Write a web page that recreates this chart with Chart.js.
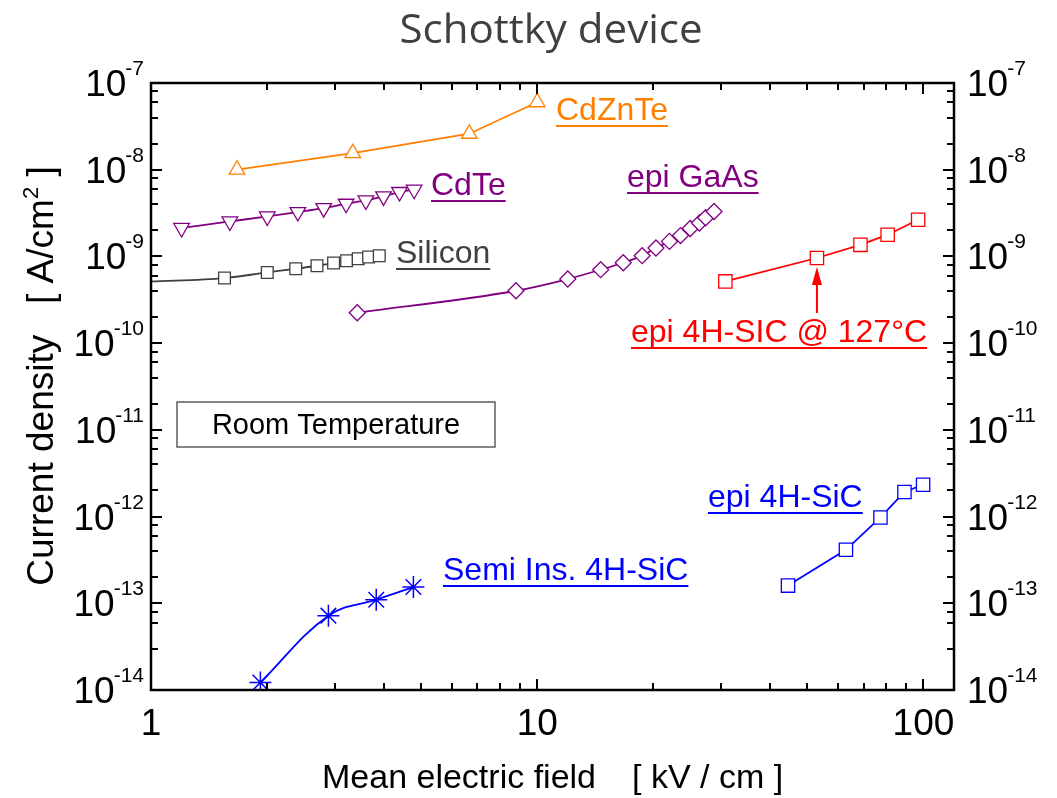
<!DOCTYPE html>
<html>
<head>
<meta charset="utf-8">
<title>Schottky device</title>
<script src="https://cdn.jsdelivr.net/npm/chart.js@4.4.0/dist/chart.umd.min.js"></script>
<style>
  body { margin: 0; background: #fff; }
  #wrap { position: relative; width: 1057px; height: 798px; }
</style>
</head>
<body>
<div id="wrap"><canvas id="chart"></canvas></div>
<script>
// Mean electric field [kV/cm] vs current density [A/cm^2], one pair per device
const cdznteField = [1.67, 3.33, 6.67, 10.0];
const cdznteCurrent = [1.0e-8, 1.55e-8, 2.6e-8, 6.0e-8];

const cdteField = [1.2, 1.6, 2.0, 2.4, 2.8, 3.2, 3.6, 4.0, 4.4, 4.8];
const cdteCurrent = [2.13e-9, 2.53e-9, 2.89e-9, 3.25e-9, 3.61e-9, 4.05e-9, 4.42e-9, 4.92e-9, 5.53e-9, 5.88e-9];

const siliconField = [1.0, 1.55, 2.0, 2.37, 2.69, 2.97, 3.21, 3.44, 3.66, 3.90];
const siliconCurrent = [5.15e-10, 5.63e-10, 6.54e-10, 7.21e-10, 7.81e-10, 8.39e-10, 8.92e-10, 9.40e-10, 9.84e-10, 1.02e-9];

const gaasField = [3.42, 8.81, 12.0, 14.6, 16.7, 18.7, 20.3, 22.0, 23.5, 24.9, 26.3, 27.3, 28.7];
const gaasCurrent = [2.24e-10, 4.02e-10, 5.49e-10, 7.03e-10, 8.45e-10, 1.02e-9, 1.25e-9, 1.49e-9, 1.74e-9, 2.10e-9, 2.43e-9, 2.79e-9, 3.30e-9];

const sicHotField = [30.7, 53.0, 68.7, 80.8, 96.9];
const sicHotCurrent = [5.15e-10, 9.59e-10, 1.36e-9, 1.78e-9, 2.65e-9];

const sicEpiField = [44.6, 63.0, 77.4, 89.3, 99.8];
const sicEpiCurrent = [1.60e-13, 4.14e-13, 9.77e-13, 1.92e-12, 2.33e-12];

const sicSemiField = [1.92, 2.88, 3.83, 4.78];
const sicSemiCurrent = [1.22e-14, 7.2e-14, 1.10e-13, 1.54e-13];

// axis labels
const xTickValues = [1, 10, 100];
const yTickExponents = [-7, -8, -9, -10, -11, -12, -13, -14];

const FONT = '"Liberation Sans", Arial, sans-serif';

function series(label, xs, ys, color, style, extra) {
  return Object.assign({
    label,
    data: xs.map((x, i) => ({ x, y: ys[i] })),
    borderColor: color,
    borderWidth: 1.8,
    pointStyle: style,
    pointRadius: 8.5,
    pointBorderColor: color,
    pointBackgroundColor: '#fff',
    pointBorderWidth: 1.3,
    tension: 0,
  }, extra || {});
}

const smooth = { cubicInterpolationMode: 'monotone' };

// text notes next to the curves (pixel positions of the text baseline)
const notes = [
  { text: 'CdZnTe', x: 556, y: 120, color: '#ff8000', size: 32 },
  { text: 'CdTe', x: 431, y: 195, color: '#800080', size: 32 },
  { text: 'Silicon', x: 396, y: 263, color: '#404040', size: 32 },
  { text: 'epi GaAs', x: 627, y: 187, color: '#800080', size: 32 },
  { text: 'epi 4H-SIC @ 127°C', x: 631, y: 342, color: '#ff0000', size: 32 },
  { text: 'epi 4H-SiC', x: 708, y: 507, color: '#0000ff', size: 32 },
  { text: 'Semi Ins. 4H-SiC', x: 443, y: 580, color: '#0000ff', size: 32 },
];

function isDecadeMultiple(v) {
  const m = v / Math.pow(10, Math.floor(Math.log10(v) + 1e-9));
  return Math.abs(m - Math.round(m)) < 1e-6 ? Math.round(m) : 0;
}

function drawPower(ctx, exp, x, y, align) {
  const big = '37px ' + FONT;
  const small = '21px ' + FONT;
  ctx.font = big;
  const wb = ctx.measureText('10').width;
  ctx.font = small;
  const ws = ctx.measureText(String(exp)).width;
  const left = align === 'right' ? x - wb - ws + 1 : x;
  ctx.textAlign = 'left';
  ctx.textBaseline = 'alphabetic';
  ctx.font = big;
  ctx.fillText('10', left, y + 13);
  ctx.font = small;
  ctx.fillText(String(exp), left + wb - 1, y - 8);
}

const decorations = {
  id: 'decorations',
  afterDraw(chart) {
    const ctx = chart.ctx;
    const xs = chart.scales.x;
    const ys = chart.scales.y;
    const a = chart.chartArea;
    ctx.save();

    // ticks, pointing inward on all four sides
    ctx.strokeStyle = '#000';
    ctx.lineWidth = 2;
    ctx.beginPath();
    xs.ticks.forEach((t) => {
      const m = isDecadeMultiple(t.value);
      if (!m) return;
      const px = Math.round(xs.getPixelForValue(t.value));
      if (px <= a.left + 1 || px >= a.right - 1) return;
      const len = m === 1 ? 11 : 7;
      ctx.moveTo(px, a.bottom); ctx.lineTo(px, a.bottom - len);
      ctx.moveTo(px, a.top); ctx.lineTo(px, a.top + len);
    });
    ys.ticks.forEach((t) => {
      const m = isDecadeMultiple(t.value);
      if (!m) return;
      const py = Math.round(ys.getPixelForValue(t.value));
      if (py <= a.top + 1 || py >= a.bottom - 1) return;
      const len = m === 1 ? 11 : 7;
      ctx.moveTo(a.left, py); ctx.lineTo(a.left + len, py);
      ctx.moveTo(a.right, py); ctx.lineTo(a.right - len, py);
    });
    ctx.stroke();

    // frame
    ctx.lineWidth = 2.5;
    ctx.strokeRect(a.left, a.top, a.right - a.left, a.bottom - a.top);

    // tick labels
    ctx.fillStyle = '#000';
    ctx.font = '37px ' + FONT;
    ctx.textAlign = 'center';
    ctx.textBaseline = 'alphabetic';
    xTickValues.forEach((v) => {
      ctx.fillText(String(v), xs.getPixelForValue(v), a.bottom + 45);
    });
    yTickExponents.forEach((e) => {
      const py = ys.getPixelForValue(Math.pow(10, e));
      drawPower(ctx, e, a.left - 7, py, 'right');
      drawPower(ctx, e, a.right + 13, py, 'left');
    });

    // axis titles
    ctx.font = '34px ' + FONT;
    ctx.textAlign = 'left';
    ctx.fillText('Mean electric field', 322, 788);
    ctx.fillText('[ kV / cm ]', 632, 788);

    ctx.save();
    ctx.translate(53, 376);
    ctx.rotate(-Math.PI / 2);
    const partA = 'Current density   [ A/cm';
    const partB = '2';
    const partC = ' ]';
    ctx.font = '37px ' + FONT;
    const wA = ctx.measureText(partA).width;
    const wC = ctx.measureText(partC).width;
    ctx.font = '22px ' + FONT;
    const wB = ctx.measureText(partB).width;
    let cx = -(wA + wB + wC) / 2;
    ctx.font = '37px ' + FONT;
    ctx.fillText(partA, cx, 0);
    cx += wA;
    ctx.font = '22px ' + FONT;
    ctx.fillText(partB, cx, -15);
    cx += wB;
    ctx.font = '37px ' + FONT;
    ctx.fillText(partC, cx, 0);
    ctx.restore();

    // main title, narrowed to match the original Calibri look
    ctx.save();
    ctx.fillStyle = '#404040';
    ctx.font = '40px "Open Sans", sans-serif';
    const tw = ctx.measureText('Schottky device').width;
    ctx.translate(551, 43);
    ctx.scale(303 / tw, 1);
    ctx.textAlign = 'center';
    ctx.fillText('Schottky device', 0, 0);
    ctx.restore();

    // curve notes, underlined
    notes.forEach((n) => {
      ctx.font = n.size + 'px ' + FONT;
      ctx.fillStyle = n.color;
      ctx.textAlign = 'left';
      ctx.fillText(n.text, n.x, n.y);
      const w = ctx.measureText(n.text).width;
      ctx.fillRect(n.x, n.y + 5, w, 2);
    });

    // arrow pointing to the 53 kV/cm point at 127 C
    const ax = xs.getPixelForValue(sicHotField[1]);
    const tipY = ys.getPixelForValue(sicHotCurrent[1]) + 9;
    ctx.strokeStyle = '#ff0000';
    ctx.fillStyle = '#ff0000';
    ctx.lineWidth = 2;
    ctx.beginPath();
    ctx.moveTo(ax, 313);
    ctx.lineTo(ax, tipY + 14);
    ctx.stroke();
    ctx.beginPath();
    ctx.moveTo(ax, tipY);
    ctx.lineTo(ax - 5, tipY + 18);
    ctx.lineTo(ax + 5, tipY + 18);
    ctx.closePath();
    ctx.fill();

    // room temperature box
    ctx.strokeStyle = '#444';
    ctx.lineWidth = 1.3;
    ctx.strokeRect(177, 402, 318, 45);
    ctx.fillStyle = '#000';
    ctx.font = '29px ' + FONT;
    ctx.textAlign = 'center';
    ctx.fillText('Room Temperature', 336, 434);

    ctx.restore();
  },
};

new Chart(document.getElementById('chart'), {
  type: 'line',
  data: {
    datasets: [
      series('CdZnTe', cdznteField, cdznteCurrent, '#ff8000', 'triangle', { pointRadius: 9 }),
      series('CdTe', cdteField, cdteCurrent, '#800080', 'triangle',
        Object.assign({ pointRadius: 9, pointRotation: 180 }, smooth)),
      series('Silicon', siliconField, siliconCurrent, '#404040', 'rect',
        Object.assign({ pointRadius: siliconField.map((_, i) => (i === 0 ? 0 : 8.3)) }, smooth)),
      series('epi GaAs', gaasField, gaasCurrent, '#800080', 'rectRot',
        Object.assign({ pointRadius: 8 }, smooth)),
      series('epi 4H-SIC @ 127°C', sicHotField, sicHotCurrent, '#ff0000', 'rect', { pointRadius: 9.4 }),
      series('epi 4H-SiC', sicEpiField, sicEpiCurrent, '#0000ff', 'rect', { pointRadius: 9.4 }),
      series('Semi Ins. 4H-SiC', sicSemiField, sicSemiCurrent, '#0000ff', 'star',
        { pointRadius: 11, pointBorderWidth: 1.5, tension: 0.4 }),
    ],
  },
  options: {
    responsive: true,
    maintainAspectRatio: false,
    animation: false,
    parsing: true,
    layout: { padding: { left: 151, right: 103, top: 83, bottom: 108 } },
    plugins: { legend: { display: false }, tooltip: { enabled: false }, title: { display: false } },
    scales: {
      x: { type: 'logarithmic', min: 1, max: 120, display: false },
      y: { type: 'logarithmic', min: 1e-14, max: 1e-7, display: false },
    },
  },
  plugins: [decorations],
});
</script>
</body>
</html>
